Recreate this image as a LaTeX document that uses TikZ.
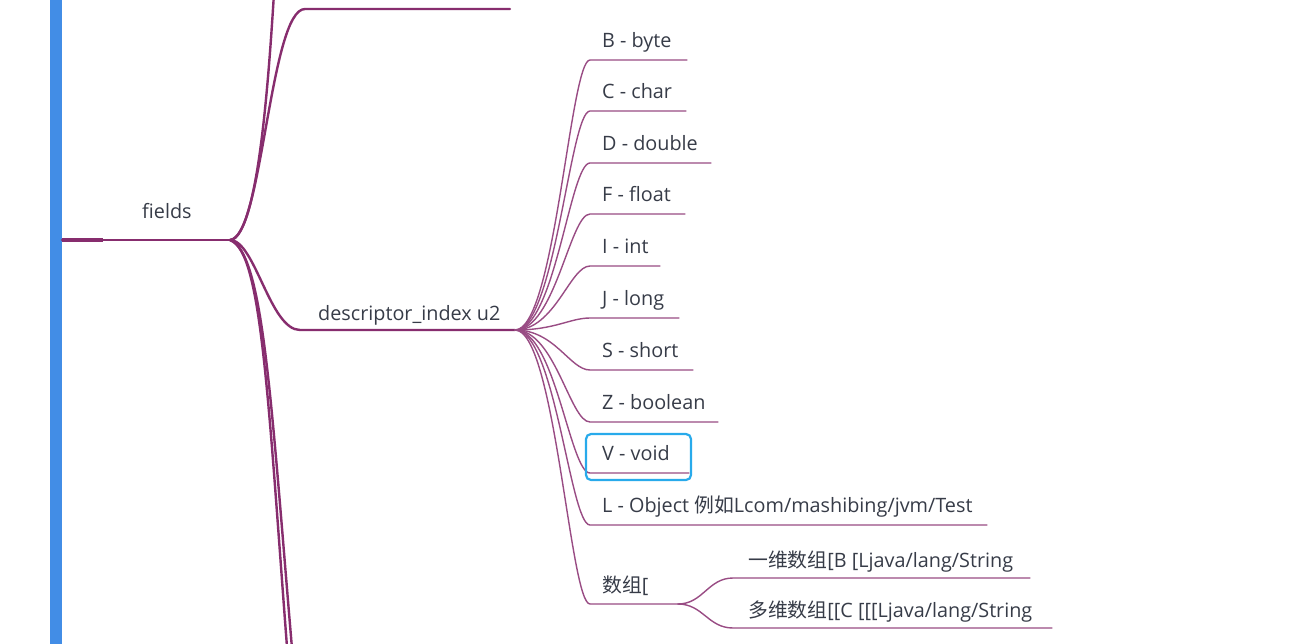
\documentclass[tikz,border=0pt]{standalone}
\usepackage{fontspec}
\setmainfont{Open Sans}
\newfontfamily\cjk{Noto Sans CJK SC}
\usetikzlibrary{calc}
\definecolor{barblue}{RGB}{66,141,230}
\definecolor{brc}{RGB}{135,45,110}
\definecolor{txtc}{RGB}{55,60,72}
\definecolor{selc}{RGB}{40,170,235}
\tikzset{
  mainline/.style={draw=brc, line width=2.4pt, line cap=round},
  subline/.style={draw=brc!85, line width=1.4pt, line cap=round},
  lbl/.style={text=txtc, inner sep=0pt, anchor=base west, font=\fontsize{19.8}{23}\selectfont},
  branch/.style 2 args={to path={.. controls ($(\tikztostart)+(#1,0)$) and ($(\tikztotarget)+(-#2,0)$) .. (\tikztotarget)}},
}
\begin{document}
\begin{tikzpicture}[x=1pt,y=-1pt]
\clip (0,0) rectangle (1312,643);
\fill[white] (0,0) rectangle (1312,643);
% left bar
\fill[barblue] (50,-5) rectangle (62,650);
% fields
\coordinate (froot) at (62,240);
\coordinate (fstub) at (103,240);
\coordinate (fhub) at (230,240);
\draw[mainline] (froot) -- (fhub);
\draw[draw=brc, line width=3.4pt] (froot) -- (fstub);
\node[lbl] (fields) at (142,218) {fields};
% upward branches
\coordinate (up1) at (276,-40);
\draw[mainline] (fhub) .. controls +(30,-4) and +(-6,100) .. (up1);
\coordinate (tL) at (305,9);
\coordinate (tR) at (510,9);
\draw[mainline] (fhub) to[branch={32}{35}] (tL) -- (tR);
% downward branches
\coordinate (dn1) at (288,660);
\coordinate (dn2) at (293,660);
\draw[mainline] (fhub) .. controls +(32,10) and +(-20,-260) .. (dn1);
\draw[mainline] (fhub) .. controls +(34,13) and +(-22,-256) .. (dn2);
% descriptor_index
\coordinate (dL) at (300,330);
\coordinate (dhub) at (515,330);
\draw[mainline] (fhub) to[branch={25}{30}] (dL) -- (dhub);
\node[lbl] (desc) at (318,320) {descriptor\_index u2};
% children
\coordinate (bL) at (590,60);  \coordinate (bR) at (687,60);
\draw[subline] (dhub) to[branch={40}{20}] (bL) -- (bR);
\node[lbl] (b) at (602,47) {B - byte};
\coordinate (cL) at (590,111); \coordinate (cR) at (686,111);
\draw[subline] (dhub) to[branch={40}{20}] (cL) -- (cR);
\node[lbl] (c) at (602,98) {C - char};
\coordinate (dbL) at (590,163); \coordinate (dbR) at (711,163);
\draw[subline] (dhub) to[branch={40}{20}] (dbL) -- (dbR);
\node[lbl] (d) at (602,150) {D - double};
\coordinate (fL) at (590,214); \coordinate (fR) at (685,214);
\draw[subline] (dhub) to[branch={40}{20}] (fL) -- (fR);
\node[lbl] (f) at (602,201) {F - float};
\coordinate (iL) at (590,266); \coordinate (iR) at (660,266);
\draw[subline] (dhub) to[branch={40}{20}] (iL) -- (iR);
\node[lbl] (i) at (602,253) {I - int};
\coordinate (jL) at (590,318); \coordinate (jR) at (679,318);
\draw[subline] (dhub) to[branch={40}{20}] (jL) -- (jR);
\node[lbl] (j) at (602,305) {J - long};
\coordinate (sL) at (590,370); \coordinate (sR) at (693,370);
\draw[subline] (dhub) to[branch={40}{20}] (sL) -- (sR);
\node[lbl] (s) at (602,357) {S - short};
\coordinate (zL) at (590,422); \coordinate (zR) at (718,422);
\draw[subline] (dhub) to[branch={40}{20}] (zL) -- (zR);
\node[lbl] (z) at (602,409) {Z - boolean};
\coordinate (vL) at (590,473); \coordinate (vR) at (689,473);
\draw[subline] (dhub) to[branch={40}{20}] (vL) -- (vR);
\node[lbl] (v) at (602,460) {V - void};
\draw[selc, line width=2.2pt, rounded corners=5pt] (586,434) rectangle (691,480);
\coordinate (lL) at (590,525); \coordinate (lR) at (987,525);
\draw[subline] (dhub) to[branch={40}{20}] (lL) -- (lR);
\node[lbl] (l) at (602,512) {L - Object {\cjk 例如}Lcom/mashibing/jvm/Test};
% arrays
\coordinate (aL) at (590,604); \coordinate (ahub) at (678,604);
\draw[subline] (dhub) to[branch={40}{20}] (aL) -- (ahub);
\node[lbl] (arr) at (602,592) {{\cjk 数组}[};
\coordinate (a1L) at (733,578); \coordinate (a1R) at (1030,578);
\draw[subline] (ahub) to[branch={25}{25}] (a1L) -- (a1R);
\node[lbl] (a1) at (748,567) {{\cjk 一维数组}[B [Ljava/lang/String};
\coordinate (a2L) at (733,628); \coordinate (a2R) at (1052,628);
\draw[subline] (ahub) to[branch={25}{25}] (a2L) -- (a2R);
\node[lbl] (a2) at (748,617) {{\cjk 多维数组}[[C [[[Ljava/lang/String};
\end{tikzpicture}
\end{document}
